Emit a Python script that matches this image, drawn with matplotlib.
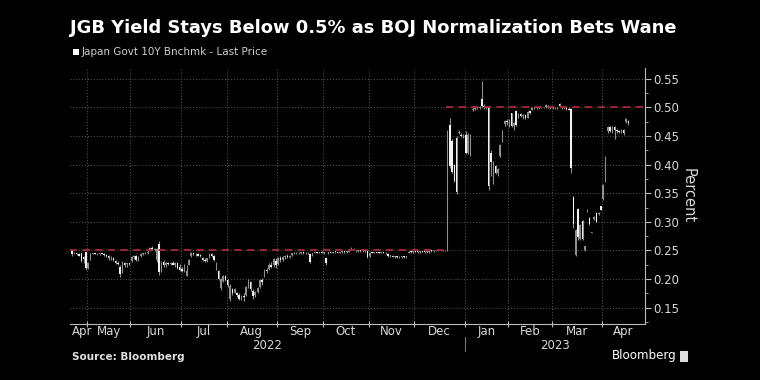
import numpy as np
import pandas as pd
import matplotlib
matplotlib.use("Agg")
import matplotlib.pyplot as plt
from matplotlib.patches import Rectangle
import matplotlib.transforms as mtransforms

plt.rcParams['font.family'] = ['Liberation Sans Narrow', 'DejaVu Sans']

# Japanese market holidays in the window (no trading)
holidays = ["2022-04-29", "2022-05-03", "2022-05-04", "2022-05-05", "2022-07-18",
            "2022-08-11", "2022-09-19", "2022-09-23", "2022-10-10", "2022-11-03",
            "2022-11-23", "2023-01-02", "2023-01-03", "2023-01-09", "2023-02-23",
            "2023-03-21"]

# Japan Govt 10Y benchmark yield, daily OHLC (percent)
open_ = [
    .250, .246, .245, .244, .245, .238, .248,                                   # Apr 22
    .220, .235, .244, .245, .244, .243, .245, .243, .242, .240, .238, .236, .232, .229,
    .222, .212, .228, .226, .227,                                               # May
    .232, .238, .240, .234, .240, .244, .245, .246, .250, .254, .251, .233, .262, .215,
    .230, .225, .228, .226, .229, .225, .228, .222,                             # Jun
    .218, .214, .206, .225, .240, .245, .243, .244, .241, .237, .234, .232, .238, .244,
    .240, .218, .215, .185, .196, .205,                                         # Jul
    .198, .165, .182, .176, .176, .172, .165, .170, .172, .186, .195, .180, .172, .178,
    .186, .198, .205, .216, .218, .225, .224, .232,                             # Aug
    .226, .236, .233, .238, .240, .238, .242, .245, .246, .245, .246, .247, .245, .246,
    .243, .242, .246, .247, .246, .247,                                         # Sep
    .246, .236, .245, .247, .246, .247, .247, .246, .247, .248, .247, .248, .251, .253,
    .250, .249, .250, .249, .250, .249,                                         # Oct
    .240, .246, .246, .247, .246, .246, .247, .246, .244, .240, .241, .239, .240, .238,
    .239, .240, .238, .246, .248, .247,                                         # Nov
    .248, .248, .247, .248, .248, .247, .248, .249, .249, .250, .250, .250, .250, .250,
    .250, .470, .442, .400, .447, .455, .452, .450,                             # Dec
    .452, .421, .418, .495, .498, .500, .499, .515, .503, .500, .500, .421, .375, .398,
    .385, .415, .442, .471, .476,                                               # Jan 23
    .470, .490, .468, .494, .484, .488, .485, .487, .482, .493, .496, .499, .500, .499,
    .500, .500, .500, .503, .500,                                               # Feb
    .499, .500, .500, .506, .501, .500, .500, .498, .497, .343, .242, .322, .270, .302,
    .250, .320, .307, .281, .305, .316, .313, .327,                             # Mar
    .340, .370, .458, .466, .458, .465, .460, .458, .456, .460, .474, .476,     # Apr
]
high = [
    .250, .248, .246, .246, .246, .240, .248,
    .230, .245, .246, .246, .245, .245, .246, .245, .244, .242, .240, .238, .233, .231,
    .224, .232, .230, .228, .229,
    .240, .242, .242, .240, .245, .246, .248, .250, .256, .257, .255, .254, .266, .232,
    .233, .230, .230, .230, .231, .230, .230, .226,
    .222, .226, .224, .235, .247, .247, .246, .246, .243, .238, .236, .237, .245, .246,
    .242, .230, .216, .202, .207, .207,
    .200, .191, .184, .184, .178, .176, .172, .175, .188, .200, .197, .182, .180, .186,
    .200, .202, .218, .220, .228, .230, .237, .236,
    .238, .240, .240, .242, .243, .242, .246, .247, .248, .247, .248, .249, .247, .248,
    .244, .246, .248, .248, .248, .249,
    .248, .238, .248, .248, .248, .248, .248, .248, .249, .249, .249, .250, .256, .255,
    .251, .251, .251, .251, .251, .250,
    .247, .247, .248, .248, .247, .248, .248, .247, .245, .242, .242, .241, .241, .240,
    .241, .241, .241, .249, .249, .249,
    .249, .249, .249, .249, .249, .249, .250, .250, .251, .251, .251, .251, .251, .251,
    .460, .482, .445, .402, .450, .460, .455, .454,
    .459, .456, .453, .500, .502, .503, .503, .546, .506, .503, .502, .425, .407, .400,
    .395, .437, .460, .478, .480,
    .480, .491, .475, .495, .490, .490, .489, .488, .493, .495, .500, .500, .501, .500,
    .501, .501, .506, .505, .501,
    .500, .501, .501, .507, .502, .501, .501, .500, .499, .345, .287, .324, .296, .304,
    .258, .322, .309, .283, .310, .318, .318, .328,
    .366, .416, .468, .468, .467, .467, .462, .460, .462, .462, .481, .478,
]
low = [
    .241, .244, .242, .240, .230, .228, .216,
    .218, .234, .243, .243, .242, .242, .243, .241, .238, .234, .233, .232, .226, .225,
    .204, .210, .222, .222, .224,
    .230, .235, .232, .232, .239, .242, .243, .244, .249, .250, .249, .230, .208, .213,
    .222, .222, .225, .224, .224, .222, .218, .214,
    .212, .212, .205, .224, .239, .242, .240, .240, .238, .232, .230, .230, .237, .238,
    .232, .216, .198, .181, .195, .196,
    .187, .162, .172, .175, .168, .163, .164, .162, .170, .184, .180, .166, .168, .176,
    .185, .190, .204, .210, .216, .220, .222, .220,
    .225, .230, .232, .235, .236, .236, .240, .243, .244, .243, .244, .244, .243, .244,
    .228, .240, .245, .245, .245, .245,
    .244, .225, .244, .245, .245, .246, .245, .245, .246, .246, .246, .247, .250, .250,
    .248, .248, .248, .248, .248, .236,
    .239, .245, .245, .245, .245, .245, .245, .244, .238, .238, .238, .237, .236, .236,
    .237, .237, .237, .245, .246, .246,
    .247, .246, .246, .247, .246, .246, .246, .247, .248, .249, .249, .249, .249, .249,
    .249, .395, .386, .370, .348, .454, .448, .447,
    .418, .419, .415, .493, .495, .497, .497, .500, .498, .497, .355, .380, .366, .383,
    .380, .413, .440, .468, .470,
    .465, .465, .460, .468, .482, .483, .480, .479, .481, .488, .495, .498, .498, .497,
    .499, .499, .499, .499, .498,
    .497, .498, .498, .500, .498, .498, .496, .495, .386, .290, .240, .268, .268, .268,
    .249, .318, .295, .280, .304, .299, .312, .320,
    .339, .369, .456, .457, .456, .445, .456, .455, .455, .452, .472, .470,
]
close = [
    .243, .245, .244, .241, .232, .235, .220,
    .228, .244, .245, .244, .243, .245, .244, .242, .240, .236, .238, .234, .228, .227,
    .209, .230, .224, .227, .226,
    .238, .240, .234, .238, .244, .245, .246, .248, .255, .251, .252, .252, .212, .230,
    .225, .228, .226, .229, .225, .228, .220, .216,
    .214, .224, .215, .234, .245, .243, .244, .241, .240, .234, .232, .236, .244, .240,
    .234, .228, .200, .200, .205, .198,
    .190, .188, .175, .182, .172, .165, .170, .168, .186, .198, .182, .170, .178, .184,
    .198, .195, .216, .214, .225, .222, .235, .224,
    .236, .233, .238, .240, .238, .241, .245, .246, .245, .246, .247, .245, .246, .245,
    .230, .245, .247, .246, .247, .246,
    .247, .228, .247, .246, .247, .247, .246, .247, .248, .247, .248, .249, .255, .252,
    .250, .250, .249, .250, .249, .238,
    .246, .246, .247, .246, .246, .247, .246, .245, .240, .241, .239, .240, .238, .239,
    .240, .238, .240, .248, .247, .248,
    .248, .247, .248, .248, .247, .248, .249, .249, .250, .250, .250, .250, .250, .250,
    .410, .398, .388, .372, .352, .457, .450, .452,
    .420, .452, .450, .498, .500, .499, .501, .503, .500, .501, .362, .404, .400, .385,
    .392, .435, .458, .476, .474,
    .478, .468, .472, .470, .488, .485, .487, .481, .492, .490, .499, .500, .499, .500,
    .500, .500, .505, .500, .499,
    .499, .500, .500, .502, .500, .500, .497, .496, .395, .296, .285, .273, .294, .270,
    .257, .321, .296, .282, .308, .300, .316, .321,
    .364, .414, .466, .458, .465, .460, .458, .457, .460, .455, .479, .472,
]

lower_cap = 0.25
upper_cap = 0.50
cap_change = "2022-12-20"

days = pd.bdate_range("2022-04-20", "2023-04-18")
days = days[~days.isin(pd.to_datetime(holidays))]
assert len(days) == len(open_) == len(high) == len(low) == len(close)

o = np.array(open_)
h = np.array(high)
lo = np.array(low)
c = np.array(close)
x = np.arange(len(days))

fig = plt.figure(figsize=(7.6, 3.8), dpi=100, facecolor='black')
ax = fig.add_axes([70/760, 1-324/380, 575/760, 256/380], facecolor='black')

xmin, xmax = -0.92, 250.3
ax.set_xlim(xmin, xmax)
ax.set_ylim(0.1215, 0.569)

# month boundaries
months = days.to_period('M')
first_idx = [i for i in range(len(days)) if i == 0 or months[i] != months[i-1]]
bounds = [i - 0.5 for i in first_idx[1:]]
edges = [xmin] + bounds + [xmax]
centers = [(edges[k] + edges[k+1]) / 2 for k in range(len(edges) - 1)]
centers[0] = max(centers[0], 4.5)
mlabels = [days[i].strftime('%b') for i in first_idx]

ax.set_xticks(bounds)
ax.set_xticklabels([])
ax.set_xticks(centers, minor=True)
ax.set_xticklabels(mlabels, minor=True)
ax.tick_params(axis='x', which='major', direction='inout', length=5, color='#bbbbbb', width=0.8)
ax.tick_params(axis='x', which='minor', length=0, pad=1, labelsize=8.5, labelcolor='#d8d8d8')

# y axis on the right
ax.yaxis.tick_right()
ax.yaxis.set_label_position('right')
ax.set_yticks(np.arange(0.15, 0.551, 0.05))
ax.set_yticks(np.arange(0.125, 0.57, 0.025), minor=True)
ax.set_yticklabels([f"{v:.2f}" for v in np.arange(0.15, 0.551, 0.05)])
ax.tick_params(axis='y', which='major', direction='out', length=4, color='#bbbbbb',
               labelsize=8.5, labelcolor='#d8d8d8', pad=2)
ax.tick_params(axis='y', which='minor', direction='out', length=2, color='#bbbbbb')
ax.set_ylabel("Percent", rotation=270, color='#d8d8d8', fontsize=10.5, labelpad=12)

for s in ['left', 'top']:
    ax.spines[s].set_visible(False)
for s in ['right', 'bottom']:
    ax.spines[s].set_color('#bbbbbb')
    ax.spines[s].set_linewidth(0.8)

ax.grid(True, which='major', color='#5a5a5a', linestyle=(0, (1, 2)), linewidth=0.7)
ax.set_axisbelow(True)

# candles
body_lo = np.minimum(o, c)
body_h = np.maximum(np.abs(c - o), 0.0014)
colors = np.where(c > o, '#8e8e8e', '#f2f2f2')
ax.vlines(x, lo, h, color='#8e8e8e', linewidth=0.8, zorder=2)
ax.bar(x, body_h, bottom=body_lo, width=0.65, color=colors, linewidth=0, zorder=3)

# BOJ cap lines
cut = np.searchsorted(days, pd.Timestamp(cap_change)) + 0.5
ax.plot([xmin, cut], [lower_cap, lower_cap], color='#a52a36', linestyle=(0, (4, 3)),
        linewidth=1.3, zorder=4)
ax.plot([cut, xmax], [upper_cap, upper_cap], color='#a52a36', linestyle=(0, (4, 3)),
        linewidth=1.3, zorder=4)

# year labels under the month labels
trans = mtransforms.blended_transform_factory(ax.transData, ax.transAxes)
years = days.year
yb = [xmin] + [i - 0.5 for i in range(1, len(days)) if years[i] != years[i-1]] + [xmax]
for k in range(len(yb) - 1):
    ax.text((yb[k] + yb[k+1]) / 2, -0.085, str(years[0] + k), transform=trans,
            ha='center', va='center', fontsize=8.5, color='#d8d8d8')
for b in yb[1:-1]:
    ax.plot([b, b], [-0.05, -0.105], transform=trans, color='#777777', linewidth=0.8,
            clip_on=False)

# titles and footer
fig.text(70/760, 1-28/380, "JGB Yield Stays Below 0.5% as BOJ Normalization Bets Wane",
         fontsize=12.9, fontweight='bold', color='white', va='center', family='DejaVu Sans')
fig.patches.append(Rectangle((73/760, 1-55/380), 6/760, 6/380, transform=fig.transFigure,
                             facecolor='white', edgecolor='none'))
fig.text(82/760, 1-52/380, "Japan Govt 10Y Bnchmk - Last Price", fontsize=7.5,
         color='#cfcfcf', va='center')
fig.text(72/760, 1-357/380, "Source: Bloomberg", fontsize=7.5, fontweight='bold',
         color='#e0e0e0', va='center')
fig.text(612/760, 1-356/380, "Bloomberg", fontsize=8.6, color='white', va='center')
fig.patches.append(Rectangle((680/760, 1-362/380), 8/760, 11/380, transform=fig.transFigure,
                             facecolor='#dddddd', edgecolor='none'))

fig.savefig("out.png", dpi=100, facecolor='black')
